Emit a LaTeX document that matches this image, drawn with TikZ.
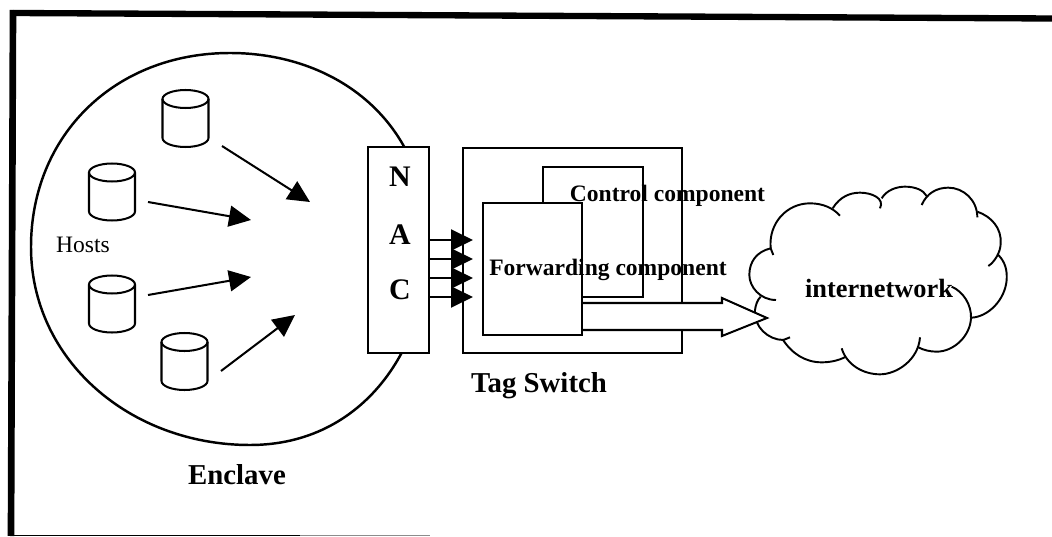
\documentclass[tikz,border=0pt]{standalone}
\usepackage{fontspec}
\setmainfont{Liberation Serif}
\usetikzlibrary{arrows.meta,positioning}

\begin{document}
\begin{tikzpicture}
                [x=0.02cm, y=-0.02cm, line width=1.15pt,
                >={Triangle[length=0.44cm,width=0.42cm]},
                host/.pic={
                    \draw (0,-19.5) ellipse [x radius=0.46cm,y radius=0.18cm];
                    \draw (-23,-19.5) -- (-23,19.5)
                        arc [start angle=180,end angle=360,x radius=0.46cm,y radius=0.18cm]
                        -- (23,-19.5);
                },
                box/.style={draw,minimum width=#1,inner sep=0pt},
                small label/.style={font=\fontsize{13.4}{16}\selectfont},
                small bold/.style={font=\fontsize{13.4}{16}\selectfont\bfseries},
                big bold/.style={font=\fontsize{16.4}{20}\selectfont\bfseries},
                nac letter/.style={font=\fontsize{17}{20}\selectfont\bfseries},
                cloud line/.style={line width=1.1pt},
                ]
                \useasboundingbox (0,0) rectangle (1052,537);

                \draw[line width=3.6pt] (13,13) -- (1052,18.5);
                \draw[line width=3.8pt] (13,10) -- (11,536);
                \draw[line width=0.9pt] (11,535.5) -- (300,535.5);
                \draw[line width=0.6pt,black!45] (300,535.5) -- (430,535.5);

                \draw[line width=1.4pt] (31,247) .. controls (31,135) and (115,53) .. (230,53)
                    .. controls (335,53) and (428,120) .. (428,245)
                    .. controls (428,345) and (365,445) .. (250,445)
                    .. controls (130,445) and (31,360) .. (31,247);

                \pic (H1) at (185.5,118.5) {host};
                \pic (H2) at (112,192) {host};
                \pic (H3) at (112,304) {host};
                \pic (H4) at (184.5,361.5) {host};

                \coordinate (A1) at (222,146);
                \coordinate (A2) at (148,202);
                \coordinate (A3) at (148,295);
                \coordinate (A4) at (221,371);
                \coordinate (T1) at (310,202);
                \coordinate (T2) at (251,220);
                \coordinate (T3) at (251,277);
                \coordinate (T4) at (295,315);
                \foreach \i in {1,...,4}
                    \draw[->] (A\i) -- (T\i);

                \node[small label] (hosts) at (83,245) {Hosts};
                \node[big bold] (enclave) at (237,475) {Enclave};

                \node[box=1.22cm,minimum height=4.12cm,fill=white] (nac) at (398.5,250) {};
                \node[nac letter] (N) at (400,177) {N};
                \node[nac letter] (A) at (400,235) {A};
                \node[nac letter] (C) at (400,290) {C};

                \node[box=4.38cm,minimum height=4.1cm] (tag) at (572.5,250.5) {};
                \node[box=2cm,minimum height=2.6cm] (control) at (593,232) {};
                \node[big bold] (tagname) at (539,386) {Tag Switch};

                \begin{scope}[shift={(740,140)},scale=1/3,cloud line]
                    \draw (100,345) -- (92,325) .. controls (50,335) and (28,365) .. (28,405)
                        .. controls (28,440) and (60,480) .. (108,480);
                    \draw (92,325) .. controls (85,250) and (140,190) .. (210,190)
                        .. controls (250,190) and (280,205) .. (300,227);
                    \draw (278,205) .. controls (300,170) and (330,158) .. (360,158)
                        .. controls (395,158) and (435,175) .. (420,205);
                    \draw (425,175) .. controls (440,150) and (470,140) .. (495,140)
                        .. controls (525,140) and (550,150) .. (560,168);
                    \draw (545,195) .. controls (560,160) and (590,143) .. (625,143)
                        .. controls (670,143) and (712,180) .. (712,232);
                    \draw (712,215) .. controls (755,230) and (785,265) .. (782,310)
                        .. controls (782,335) and (765,365) .. (745,378);
                    \draw (775,345) .. controls (795,365) and (802,390) .. (800,420)
                        .. controls (795,480) and (745,530) .. (695,533);
                    \draw (635,440) .. controls (670,455) and (695,495) .. (693,535)
                        .. controls (690,590) and (640,635) .. (590,635)
                        .. controls (570,635) and (550,630) .. (535,622);
                    \draw (540,592) .. controls (535,660) and (470,703) .. (420,703)
                        .. controls (370,703) and (320,675) .. (305,625);
                    \draw (318,650) .. controls (295,662) and (270,667) .. (245,667)
                        .. controls (195,667) and (155,640) .. (128,598);
                    \draw (150,592) -- (130,600) .. controls (85,600) and (40,560) .. (45,510)
                        .. controls (47,495) and (52,480) .. (62,470);
                \end{scope}
                \node[font=\fontsize{15}{18}\selectfont\bfseries] (internet) at (879,288) {internetwork};

                \node[box=1.98cm,minimum height=2.64cm,fill=white] (fwd) at (532.5,269) {};

                \coordinate (tip) at (767,318);
                \draw[fill=white] (fwd.east |- 0,303) -- (722,303) -- (722,298) -- (tip)
                    -- (722,336) -- (722,330) -- (fwd.east |- 0,330);

                \foreach \y in {240,259,278,297}
                    \draw[->] (nac.east |- 0,\y) -- (473,\y);

                \node[small bold] (ctext) at (667.5,196) {Control component};
                \node[small bold] (ftext) at (608,270) {Forwarding component};
            \end{tikzpicture}
\end{document}
